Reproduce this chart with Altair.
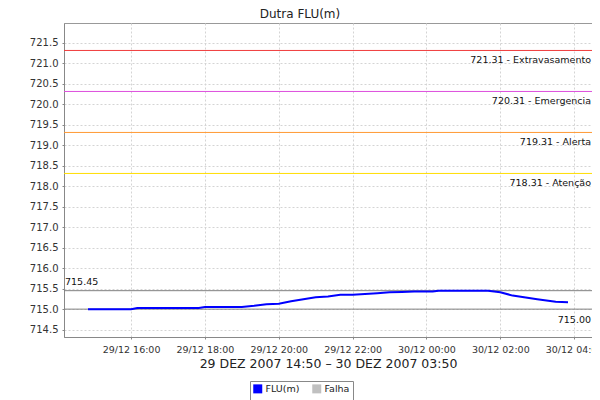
import altair as alt
import pandas as pd

# ---- data ----
times = [
    "2007-12-29T14:50:00Z", "2007-12-29T16:00:00Z", "2007-12-29T16:10:00Z",
    "2007-12-29T17:50:00Z", "2007-12-29T18:00:00Z", "2007-12-29T19:00:00Z",
    "2007-12-29T19:20:00Z", "2007-12-29T19:40:00Z", "2007-12-29T20:00:00Z",
    "2007-12-29T20:20:00Z", "2007-12-29T20:40:00Z", "2007-12-29T21:00:00Z",
    "2007-12-29T21:20:00Z", "2007-12-29T21:40:00Z", "2007-12-29T22:00:00Z",
    "2007-12-29T22:20:00Z", "2007-12-29T22:40:00Z", "2007-12-29T23:00:00Z",
    "2007-12-29T23:20:00Z", "2007-12-29T23:40:00Z", "2007-12-30T00:10:00Z",
    "2007-12-30T00:20:00Z", "2007-12-30T01:40:00Z", "2007-12-30T02:00:00Z",
    "2007-12-30T02:20:00Z", "2007-12-30T03:00:00Z", "2007-12-30T03:30:00Z",
    "2007-12-30T03:50:00Z",
]
flu = [
    715.00, 715.00, 715.03,
    715.03, 715.05, 715.05,
    715.08, 715.12, 715.13,
    715.19, 715.24, 715.29,
    715.31, 715.35, 715.35,
    715.37, 715.39, 715.41,
    715.42, 715.43, 715.43,
    715.45, 715.45, 715.41,
    715.33, 715.24, 715.18,
    715.17,
]

threshold_values = [721.31, 720.31, 719.31, 718.31]
threshold_names = ["Extravasamento", "Emergencia", "Alerta", "Atenção"]
threshold_colors = ["#f03c3c", "#dd4fdd", "#ff9933", "#ffdd00"]

max_value = 715.45
min_value = 715.00

series_names = ["FLU(m)", "Falha"]
series_colors = ["#0000ff", "#c0c0c0"]

y_ticks = [714.5 + 0.5 * i for i in range(15)]
x_tick_hours = [(29, 16), (29, 18), (29, 20), (29, 22), (30, 0), (30, 2), (30, 4)]

FONT = "DejaVu Sans"

# ---- tables ----
line_df = pd.DataFrame({"time": times, "value": flu, "series": series_names[0]})
thr_labels = [f"{v:.2f} - {n}" for v, n in zip(threshold_values, threshold_names)]
thr_df = pd.DataFrame({"value": threshold_values, "label": thr_labels})
mm_df = pd.DataFrame({"value": [max_value, min_value],
                      "label": [f"{max_value:.2f}", f"{min_value:.2f}"]})

W, H = 528, 314

x_scale = alt.Scale(
    type="utc",
    domain=[alt.DateTime(year=2007, month=12, date=29, hours=14, minutes=11, utc=True),
            alt.DateTime(year=2007, month=12, date=30, hours=4, minutes=29, utc=True)],
)
y_scale = alt.Scale(domain=[714.32, 721.98], nice=False, zero=False)

x_axis = alt.Axis(
    values=[alt.DateTime(year=2007, month=12, date=d, hours=h, utc=True) for d, h in x_tick_hours],
    labelExpr="utcFormat(datum.value, '%d/%m %H:%M')",
    title="29 DEZ 2007 14:50 – 30 DEZ 2007 03:50",
    titleFont=FONT, titleFontSize=12.5, titleFontWeight="normal", titleColor="#222",
    titlePadding=4,
    labelFont=FONT, labelFontSize=9.5, labelColor="#333", labelPadding=5,
    labelOverlap=False, labelFlush=False,
    tickSize=2, tickColor="#888", domainColor="#888",
    grid=True, gridDash=[2, 2], gridColor="#d4d4d4",
)
y_axis = alt.Axis(
    values=y_ticks, format=".1f", title=None,
    labelFont=FONT, labelFontSize=10, labelColor="#333", labelPadding=4,
    labelOverlap=False,
    tickSize=2, tickColor="#888", domainColor="#888",
    grid=True, gridDash=[2, 2], gridColor="#d4d4d4",
)

Y = alt.Y("value:Q", scale=y_scale, axis=y_axis)

line = alt.Chart(line_df).mark_line(strokeWidth=2).encode(
    x=alt.X("time:T", scale=x_scale, axis=x_axis),
    y=Y,
    color=alt.Color(
        "series:N",
        scale=alt.Scale(domain=series_names, range=series_colors),
        legend=alt.Legend(
            title=None, orient="none", legendX=186, legendY=358,
            direction="horizontal", symbolType="square", symbolSize=16,
            symbolStrokeWidth=5, labelFont=FONT, labelFontSize=9.5, labelColor="#222",
            strokeColor="#888", padding=3, fillColor="white", columnPadding=4,
            labelOffset=3,
        ),
    ),
)

thr_rules = alt.Chart(thr_df).mark_rule(strokeWidth=1).encode(
    y=Y,
    color=alt.Color("label:N", scale=alt.Scale(domain=thr_labels, range=threshold_colors),
                    legend=None),
)
thr_text = alt.Chart(thr_df).mark_text(
    align="right", baseline="top", dy=5, font=FONT, fontSize=9.5, color="#111"
).encode(
    x=alt.value(W - 1),
    y=Y,
    text="label:N",
)

mm_rules = alt.Chart(mm_df).mark_rule(strokeWidth=1, color="#808080").encode(y=Y)
max_text = alt.Chart(mm_df.iloc[[0]]).mark_text(
    align="left", baseline="bottom", dy=-4, font=FONT, fontSize=9.5, color="#111"
).encode(x=alt.value(1), y=Y, text="label:N")
min_text = alt.Chart(mm_df.iloc[[1]]).mark_text(
    align="right", baseline="top", dy=6, font=FONT, fontSize=9.5, color="#111"
).encode(x=alt.value(W - 1), y=Y, text="label:N")

chart = alt.layer(
    thr_rules, mm_rules, line, thr_text, max_text, min_text
).resolve_scale(color="independent").properties(
    width=W, height=H,
    title=alt.TitleParams("Dutra FLU(m)", font=FONT, fontSize=12, fontWeight="normal",
                          color="#222", anchor="middle", dx=-28, offset=2),
    autosize=alt.AutoSizeParams(type="none"),
    padding={"left": 56, "top": 15, "right": 0, "bottom": 63},
).configure_view(stroke="#999", strokeWidth=1).configure_axisY(labelOverlap=False)

chart.save("out.html", embed_options={"renderer": "svg", "actions": False})
